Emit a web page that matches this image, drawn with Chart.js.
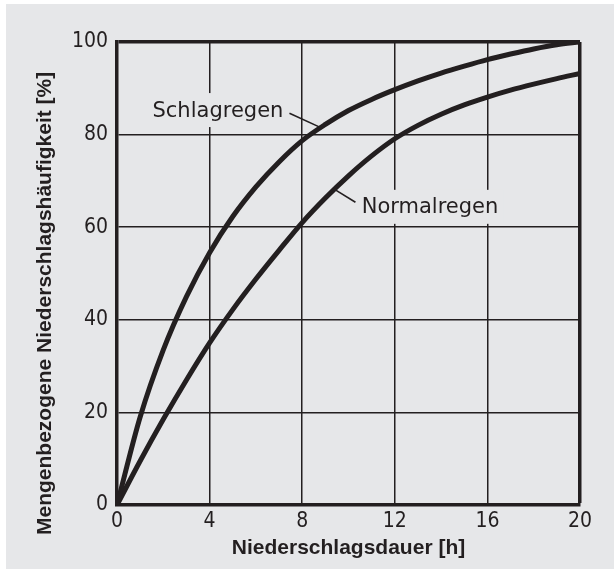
<!DOCTYPE html>
<html lang="de">
<head>
<meta charset="utf-8">
<title>Niederschlagshäufigkeit</title>
<script src="https://cdn.jsdelivr.net/npm/chart.js@4.4.1/dist/chart.umd.min.js"></script>
<style>
    html, body { margin: 0; padding: 0; background: #ffffff; }
    #fondo { position: absolute; left: 6px; top: 4px; width: 608px; height: 565px; background: #e6e7e9; }
    #contenedor { position: absolute; left: 0; top: 0; width: 614px; height: 571px; }
</style>
</head>
<body>
<div id="fondo"></div>
<div id="contenedor"><canvas id="graficoRegen" width="614" height="571"></canvas></div>
<script>
// Datos
var dauer = [0, 1, 2, 3, 4, 5, 6, 7, 8, 9, 10, 11, 12, 13, 14, 15, 16, 17, 18, 19, 20];
var schlagregen = [0, 19, 33.5, 45, 54.5, 62.3, 68.7, 74.1, 78.7, 82.2, 85.2, 87.6, 89.7, 91.6, 93.3, 94.8, 96.2, 97.4, 98.5, 99.4, 100];
var normalregen = [0, 9.5, 18.5, 27, 35, 42.2, 48.8, 55, 61, 66.3, 71.1, 75.4, 79.1, 82.0, 84.4, 86.4, 88.1, 89.6, 90.9, 92.1, 93.2];
var xTicks = [0, 4, 8, 12, 16, 20];
var yTicks = [0, 20, 40, 60, 80, 100];
var serien = ["Schlagregen", "Normalregen"];
var xTitel = "Niederschlagsdauer [h]";
var yTitel = "Mengenbezogene Niederschlagshäufigkeit [%]";

var linienFarbe = "#231f20";
var hintergrund = "#e6e7e9";

function punkte(werte) {
    return dauer.map(function (d, i) {
        return { x: d, y: werte[i] };
    });
}

// Beschriftungen der Kurven (Text in Datenkoordinaten, mit Hinweisstrich)
var beschriftungen = [
    { text: serien[0], x: 4.36, y: 85.3, von: [7.45, 84.6], bis: [8.85, 81.4] },
    { text: serien[1], x: 13.52, y: 64.4, von: [10.3, 65.4], bis: [9.45, 68.0] }
];

var titelFont = "bold 21px 'Liberation Sans', Arial, sans-serif";

var kurvenLabels = {
    id: "kurvenLabels",
    beforeDatasetsDraw: function (chart) {
        var ctx = chart.ctx;
        var sx = chart.scales.x;
        var sy = chart.scales.y;
        ctx.save();
        ctx.font = "21px 'DejaVu Sans', sans-serif";
        ctx.textAlign = "center";
        ctx.textBaseline = "middle";
        beschriftungen.forEach(function (b) {
            var px = sx.getPixelForValue(b.x);
            var py = sy.getPixelForValue(b.y);
            var w = ctx.measureText(b.text).width;
            // Hueco en la cuadrícula detrás del texto
            ctx.fillStyle = hintergrund;
            ctx.fillRect(px - w / 2 - 5, py - 17, w + 10, 34);
            ctx.fillStyle = linienFarbe;
            ctx.fillText(b.text, px, py + 1);
            // Hinweisstrich
            ctx.strokeStyle = linienFarbe;
            ctx.lineWidth = 1.6;
            ctx.beginPath();
            ctx.moveTo(sx.getPixelForValue(b.von[0]), sy.getPixelForValue(b.von[1]));
            ctx.lineTo(sx.getPixelForValue(b.bis[0]), sy.getPixelForValue(b.bis[1]));
            ctx.stroke();
        });
        ctx.restore();
    },
    afterDraw: function (chart) {
        // Título del eje Y, algo desplazado hacia abajo como en el original
        var ctx = chart.ctx;
        var area = chart.chartArea;
        ctx.save();
        ctx.font = titelFont;
        ctx.fillStyle = linienFarbe;
        ctx.textAlign = "left";
        ctx.textBaseline = "middle";
        ctx.translate(45, area.bottom + 30);
        ctx.rotate(-Math.PI / 2);
        ctx.fillText(yTitel, 0, 0);
        ctx.restore();
    }
};

var tickFont = { family: "'DejaVu Sans Condensed', 'DejaVu Sans', sans-serif", size: 21 };

var ctx = document.getElementById("graficoRegen").getContext("2d");
var grafico = new Chart(ctx, {
    type: "line",
    data: {
        datasets: [
            {
                label: serien[0],
                data: punkte(schlagregen),
                borderColor: linienFarbe,
                borderWidth: 5,
                pointRadius: 0,
                cubicInterpolationMode: "monotone",
                borderCapStyle: "round"
            },
            {
                label: serien[1],
                data: punkte(normalregen),
                borderColor: linienFarbe,
                borderWidth: 5,
                pointRadius: 0,
                cubicInterpolationMode: "monotone",
                borderCapStyle: "round"
            }
        ]
    },
    options: {
        responsive: false,
        animation: false,
        layout: { padding: { left: 28, top: 42, right: 34, bottom: 8 } },
        plugins: {
            legend: { display: false },
            tooltip: { enabled: false }
        },
        scales: {
            x: {
                type: "linear",
                min: 0,
                max: 20,
                afterBuildTicks: function (scale) {
                    scale.ticks = xTicks.map(function (v) { return { value: v }; });
                },
                afterFit: function (scale) { scale.height = 58; },
                ticks: { color: linienFarbe, font: tickFont, padding: 4, maxRotation: 0 },
                grid: {
                    drawTicks: false,
                    color: linienFarbe,
                    lineWidth: function (c) { return c.tick && c.tick.value === 20 ? 3.5 : 1.5; }
                },
                border: { color: linienFarbe, width: 3.5 },
                title: {
                    display: true,
                    text: xTitel,
                    color: linienFarbe,
                    font: { family: "'Liberation Sans', Arial, sans-serif", size: 21, weight: "bold" },
                    padding: { top: 2, bottom: 2 }
                }
            },
            y: {
                min: 0,
                max: 100,
                afterBuildTicks: function (scale) {
                    scale.ticks = yTicks.map(function (v) { return { value: v }; });
                },
                afterFit: function (scale) { scale.width = 89; },
                ticks: { color: linienFarbe, font: tickFont, padding: 9 },
                grid: {
                    drawTicks: false,
                    color: linienFarbe,
                    lineWidth: function (c) { return c.tick && c.tick.value === 100 ? 3.5 : 1.5; }
                },
                border: { color: linienFarbe, width: 3.5 }
            }
        }
    },
    plugins: [kurvenLabels]
});
</script>
</body>
</html>
